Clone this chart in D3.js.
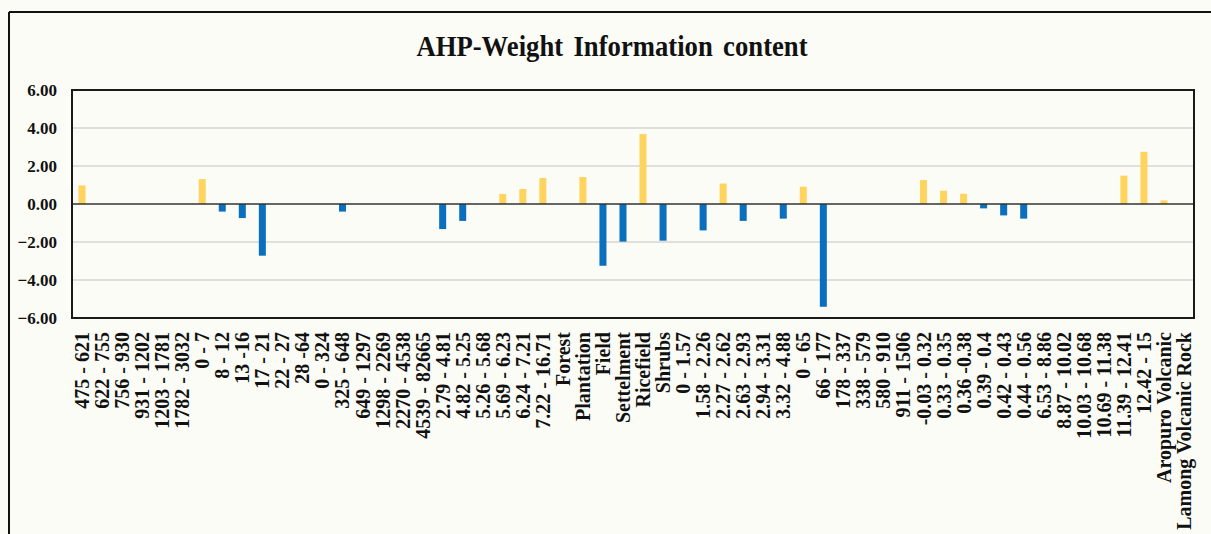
<!DOCTYPE html>
<html>
<head>
<meta charset="utf-8">
<script src="https://cdn.jsdelivr.net/npm/d3@7"></script>
<style>
  body { margin: 0; background: #fcfcf7; }
  svg { display: block; }
  text { font-family: "Times New Roman", "Liberation Serif", serif; font-weight: bold; fill: #111; }
</style>
</head>
<body>
<script>
// categories (x axis)
var categories = [
  "475 - 621", "622 - 755", "756 - 930", "931 - 1202", "1203 - 1781", "1782 - 3032",
  "0 - 7", "8 - 12", "13 -16", "17 - 21", "22 - 27", "28 -64",
  "0 - 324", "325 - 648", "649 - 1297", "1298 - 2269", "2270 - 4538", "4539 - 82665",
  "2.79 - 4.81", "4.82 - 5.25", "5.26 - 5.68", "5.69 - 6.23", "6.24 - 7.21", "7.22 - 16.71",
  "Forest", "Plantation", "Field", "Settelment", "Ricefield", "Shrubs",
  "0 - 1.57", "1.58 - 2.26", "2.27 - 2.62", "2.63 - 2.93", "2.94 - 3.31", "3.32 - 4.88",
  "0 - 65", "66 - 177", "178 - 337", "338 - 579", "580 - 910", "911 - 1506",
  "-0.03 - 0.32", "0.33 - 0.35", "0.36 -0.38", "0.39 - 0.4", "0.42 - 0.43", "0.44 - 0.56",
  "6.53 - 8.86", "8.87 - 10.02", "10.03 - 10.68", "10.69 - 11.38", "11.39 - 12.41", "12.42 - 15",
  "Aropuro Volcanic", "Lamong Volcanic Rock"
];

// weight values
var values = [
  0.98, 0, 0, 0, 0, 0,
  1.31, -0.40, -0.74, -2.72, 0, 0,
  0, -0.40, 0, 0, 0, 0,
  -1.32, -0.89, 0, 0.53, 0.79, 1.37,
  0, 1.42, -3.25, -1.98, 3.68, -1.93,
  0, -1.39, 1.08, -0.89, 0, -0.77,
  0.91, -5.41, 0, 0, 0, 0,
  1.26, 0.70, 0.54, -0.23, -0.60, -0.77,
  0, 0, 0, 0, 1.49, 2.75,
  0.19, 0
];

var yTicks = [6, 4, 2, 0, -2, -4, -6];

var width = 1211, height = 534;
var plot = { left: 72, right: 1194, top: 90, bottom: 318 };

var svg = d3.select("body")
  .append("svg")
  .attr("width", width)
  .attr("height", height);

// outer frame (top and left only visible)
svg.append("line")
  .attr("x1", 9).attr("x2", width).attr("y1", 12).attr("y2", 12)
  .attr("stroke", "#111").attr("stroke-width", 2);
svg.append("line")
  .attr("x1", 9).attr("x2", 9).attr("y1", 12).attr("y2", height)
  .attr("stroke", "#111").attr("stroke-width", 2);

// title
svg.append("text")
  .attr("transform", "translate(612,56) scale(0.92,1)")
  .attr("text-anchor", "middle")
  .attr("font-size", 29)
  .attr("word-spacing", 4)
  .text("AHP-Weight Information content");

var x = d3.scaleBand()
  .domain(categories)
  .range([plot.left, plot.right])
  .paddingInner(0.65)
  .paddingOuter(0.325);

var y = d3.scaleLinear()
  .domain([-6, 6])
  .range([plot.bottom, plot.top]);

// gridlines
svg.append("g")
  .selectAll("line")
  .data(yTicks.filter(function(d) { return d !== 0 && Math.abs(d) !== 6; }))
  .enter()
  .append("line")
  .attr("x1", plot.left).attr("x2", plot.right)
  .attr("y1", function(d) { return y(d); })
  .attr("y2", function(d) { return y(d); })
  .attr("stroke", "#d6d6d2")
  .attr("stroke-width", 1.5);

// bars, yellow up / blue down
svg.append("g")
  .selectAll("rect")
  .data(values.map(function(v, i) { return { cat: categories[i], v: v }; })
    .filter(function(d) { return d.v !== 0; }))
  .enter()
  .append("rect")
  .attr("x", function(d) { return x(d.cat); })
  .attr("width", x.bandwidth())
  .attr("y", function(d) { return y(Math.max(0, d.v)); })
  .attr("height", function(d) { return Math.abs(y(d.v) - y(0)); })
  .attr("fill", function(d) { return d.v > 0 ? "#ffd45e" : "#0a6fbd"; });

// zero line
svg.append("line")
  .attr("x1", plot.left).attr("x2", plot.right)
  .attr("y1", y(0)).attr("y2", y(0))
  .attr("stroke", "#333").attr("stroke-width", 1.5);

// plot border
svg.append("rect")
  .attr("x", plot.left).attr("y", plot.top)
  .attr("width", plot.right - plot.left)
  .attr("height", plot.bottom - plot.top)
  .attr("fill", "none")
  .attr("stroke", "#1a1a1a")
  .attr("stroke-width", 2);

// y axis labels
var yAxis = d3.axisLeft(y)
  .tickValues(yTicks)
  .tickFormat(d3.format(".2f"))
  .tickSize(0)
  .tickPadding(15);

var gy = svg.append("g")
  .attr("transform", "translate(" + plot.left + ",0)")
  .call(yAxis);
gy.select(".domain").remove();
gy.selectAll("text")
  .attr("font-size", 17)
  .attr("font-family", null)
  .attr("fill", "#111");

// x axis labels, rotated
var xAxis = d3.axisBottom(x).tickSize(0).tickPadding(0);
var gx = svg.append("g")
  .attr("transform", "translate(0," + plot.bottom + ")")
  .call(xAxis);
gx.select(".domain").remove();
gx.selectAll("text")
  .attr("font-size", 20)
  .attr("font-family", null)
  .attr("fill", "#111")
  .attr("text-anchor", "end")
  .attr("dy", "0.35em")
  .attr("transform", "translate(0,14) rotate(-90)")
  .attr("x", 0)
  .attr("y", 0);
</script>
</body>
</html>
